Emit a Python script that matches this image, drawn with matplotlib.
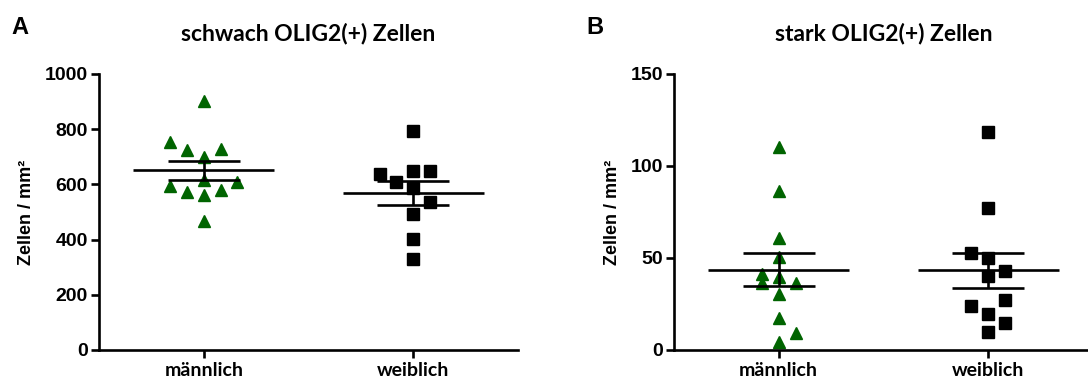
import numpy as np
import matplotlib.pyplot as plt

# values (Zellen / mm^2)
groups = ["männlich", "weiblich"]

schwach_m = [902, 754, 725, 728, 698, 596, 617, 610, 571, 578, 560, 466]
schwach_w = [792, 638, 608, 647, 650, 586, 538, 493, 403, 331]
stark_m = [110.5, 86.6, 60.7, 50.7, 41.3, 36.6, 39.5, 36.6, 30.4, 17.2, 9.4, 4.5]
stark_w = [118.6, 77.0, 52.9, 49.8, 43.1, 40.4, 27.2, 24.1, 19.4, 14.5, 9.6]

# scatter column of each point (jitter slot)
slot_schwach_m = [0, -2, -1, 1, 0, -2, 0, 2, -1, 1, 0, 0]
slot_schwach_w = [0, -2, -1, 0, 1, 0, 1, 0, 0, 0]
slot_stark_m = [0, 0, 0, 0, -1, -1, 0, 1, 0, 0, 1, 0]
slot_stark_w = [0, 0, -1, 0, 1, 0, 1, -1, 0, 1, 0]

green = "#006400"
slot_w = 0.08
lw = 1.9

fig = plt.figure(figsize=(10.88, 3.81), dpi=100)
axA = fig.add_axes([99 / 1088, 31 / 381, 419 / 1088, 276 / 381])
axB = fig.add_axes([674 / 1088, 31 / 381, 419 / 1088, 276 / 381])


def panel(ax, data, slots, title, ymax, yticks, letter):
    markers = [("^", green), ("s", "black")]
    for i, (vals, sl) in enumerate(zip(data, slots)):
        vals = np.array(vals, dtype=float)
        xs = i + np.array(sl) * slot_w
        m, c = markers[i]
        ax.plot(xs, vals, ls="none", marker=m, color=c, ms=9 if m == "^" else 8.5,
                mec=c, clip_on=False, zorder=2)
        mean = vals.mean()
        sem = vals.std(ddof=1) / np.sqrt(len(vals))
        ax.hlines(mean, i - 0.337, i + 0.337, color="black", lw=lw, zorder=3)
        ax.hlines([mean - sem, mean + sem], i - 0.173, i + 0.173, color="black", lw=lw, zorder=3)
        ax.vlines(i, mean - sem, mean + sem, color="black", lw=lw, zorder=3)

    ax.set_xlim(-0.5, 1.5)
    ax.set_ylim(0, ymax)
    ax.set_yticks(yticks)
    ax.set_xticks(range(len(groups)))
    ax.set_xticklabels(groups, fontfamily="Lato", fontweight="bold", fontsize=14)
    for lab in ax.get_yticklabels():
        lab.set_fontfamily("Liberation Sans")
        lab.set_fontweight("bold")
        lab.set_fontsize(14)
    ax.spines["top"].set_visible(False)
    ax.spines["right"].set_visible(False)
    ax.spines["left"].set_linewidth(lw)
    ax.spines["bottom"].set_linewidth(lw)
    ax.tick_params(axis="y", width=lw, length=6, pad=2)
    ax.tick_params(axis="x", width=lw, length=6, pad=3)
    ax.set_ylabel("Zellen / mm²", fontfamily="Liberation Sans", fontweight="bold",
                  fontsize=13, labelpad=7)
    ax.set_title(title, fontfamily="Lato", fontweight="bold", fontsize=16.5, pad=24)
    ax.text(-0.21, 1.17, letter, transform=ax.transAxes, fontfamily="Liberation Sans",
            fontweight="bold", fontsize=17, va="center", ha="left")


panel(axA, [schwach_m, schwach_w], [slot_schwach_m, slot_schwach_w],
      "schwach OLIG2(+) Zellen", 1000, [0, 200, 400, 600, 800, 1000], "A")
panel(axB, [stark_m, stark_w], [slot_stark_m, slot_stark_w],
      "stark OLIG2(+) Zellen", 150, [0, 50, 100, 150], "B")

fig.savefig("out.png", dpi=100)
